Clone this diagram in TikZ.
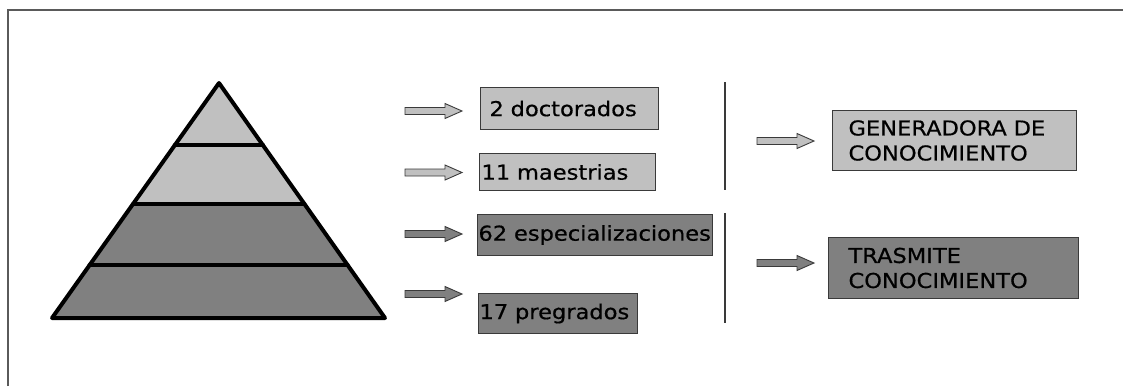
\documentclass[tikz,border=0pt]{standalone}
\usepackage{fontspec}
\setmainfont{DejaVu Sans}[FakeStretch=1.1, FakeBold=0.6]
\usetikzlibrary{calc}
\definecolor{lightg}{HTML}{C0C0C0}
\definecolor{darkg}{HTML}{808080}
\definecolor{edge}{HTML}{3A3A3A}
\definecolor{frame}{HTML}{5A5A5A}
\tikzset{
  box/.style={draw=edge, line width=1pt, anchor=north west, align=left,
    inner ysep=0pt, font=\fontsize{20.5}{25}\selectfont, text=black},
  lightbox/.style={box, fill=lightg},
  darkbox/.style={box, fill=darkg},
  layer/.style={line width=4pt, line join=round, line cap=round},
  sep/.style={draw=edge, line width=1.3pt},
  blockarrow/.pic={
    \draw[pic actions, line width=0.9pt, line join=miter]
      (0,-3.5) -- (40,-3.5) -- (40,-7.5) -- (57,0) -- (40,7.5) -- (40,3.5) -- (0,3.5) -- cycle;
  },
  lightarrow/.style={fill=lightg, draw=edge},
  darkarrow/.style={fill=darkg, draw=edge},
}
\begin{document}
\begin{tikzpicture}[x=1pt, y=-1pt]
\useasboundingbox (0,0) rectangle (1123,386);

% frame (top and left edges)
\draw[frame, line width=1.5pt] (8,386) -- (8,10) -- (1123,10);

% pyramid
\coordinate (apex) at (219,83);
\coordinate (bl) at (52,318);
\coordinate (br) at (385,318);
\coordinate (l1) at ($(apex)!0.265!(bl)$);
\coordinate (r1) at ($(apex)!0.265!(br)$);
\coordinate (l2) at ($(apex)!0.515!(bl)$);
\coordinate (r2) at ($(apex)!0.515!(br)$);
\coordinate (l3) at ($(apex)!0.775!(bl)$);
\coordinate (r3) at ($(apex)!0.775!(br)$);
\fill[lightg] (apex) -- (l2) -- (r2) -- cycle;
\fill[darkg] (l2) -- (bl) -- (br) -- (r2) -- cycle;
\draw[layer] (apex) -- (bl) -- (br) -- cycle;
\draw[layer] (l1) -- (r1);
\draw[layer] (l2) -- (r2);
\draw[layer] (l3) -- (r3);

% arrows towards the level boxes
\pic[lightarrow] (a1) at (405,111) {blockarrow};
\pic[lightarrow] (a2) at (405,172.5) {blockarrow};
\pic[darkarrow]  (a3) at (405,234) {blockarrow};
\pic[darkarrow]  (a4) at (405,294) {blockarrow};

% level boxes
\node[lightbox, inner xsep=9pt, minimum width=178pt, minimum height=42pt, text width=160pt]
  (doc) at (480,87) {2 doctorados};
\node[lightbox, inner xsep=2pt, minimum width=176pt, minimum height=37pt, text width=172pt]
  (mae) at (479,153) {11 maestrias};
\node[darkbox, inner xsep=1pt, minimum width=235pt, minimum height=41pt, text width=233pt]
  (esp) at (477,214) {62 especializaciones};
\node[darkbox, inner xsep=1pt, minimum width=159pt, minimum height=40pt, text width=157pt]
  (pre) at (478,293) {17 pregrados};

% separators
\draw[sep] (725,82) -- (725,190);
\draw[sep] (725,213) -- (725,323);

% arrows towards the role boxes
\pic[lightarrow] (a5) at (757,141) {blockarrow};
\pic[darkarrow]  (a6) at (757,263) {blockarrow};

% role boxes
\node[lightbox, inner xsep=16pt, minimum width=244pt, minimum height=60pt, text width=212pt]
  (gen) at (832,110) {GENERADORA DE\\CONOCIMIENTO};
\node[darkbox, inner xsep=20pt, minimum width=250pt, minimum height=61pt, text width=210pt]
  (tra) at (828,237) {TRASMITE\\CONOCIMIENTO};
\end{tikzpicture}
\end{document}
